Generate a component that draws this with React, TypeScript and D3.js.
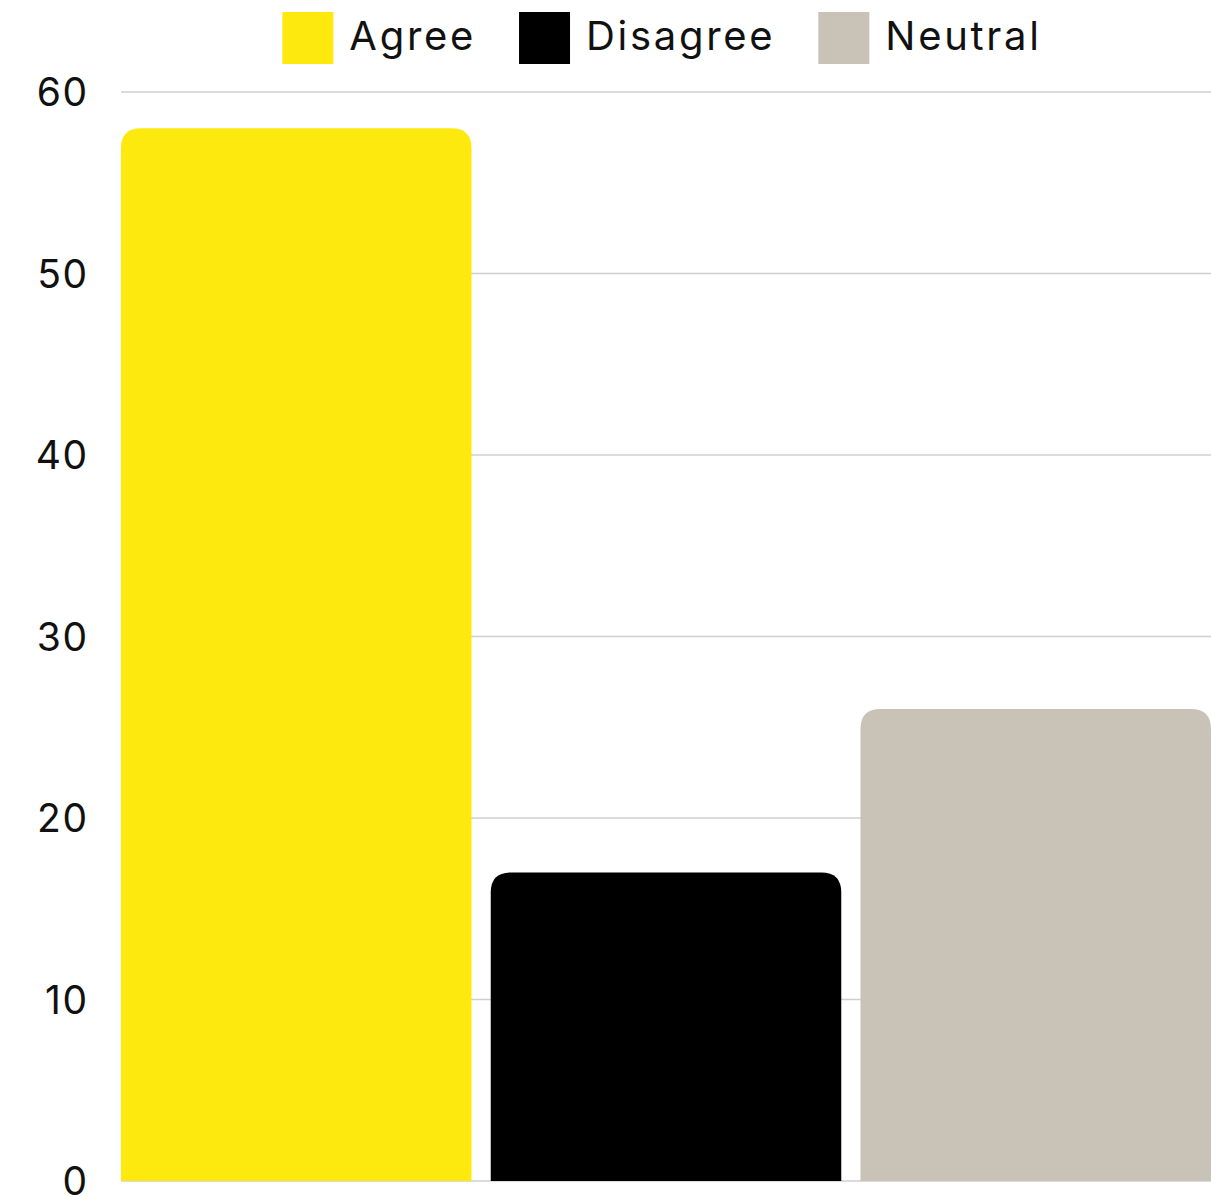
import React, { useEffect, useRef } from "react";
import * as d3 from "d3";

const categories = ["Agree", "Disagree", "Neutral"];
const values = [58, 17, 26];
const colors = ["#FDE90D", "#000000", "#C9C2B7"];
const yTicks = [0, 10, 20, 30, 40, 50, 60];

const W = 1211;
const H = 1197;
const FONT = "Inter, 'Open Sans', sans-serif";

function topRoundedBar(x: number, y: number, w: number, h: number, r: number) {
  const rr = Math.min(r, w / 2, h);
  return `M${x},${y + h}V${y + rr}Q${x},${y} ${x + rr},${y}H${x + w - rr}Q${x + w},${y} ${x + w},${y + rr}V${y + h}Z`;
}

export default function App() {
  const ref = useRef<SVGSVGElement | null>(null);

  useEffect(() => {
    const svg = d3.select(ref.current);
    svg.selectAll("*").remove();

    const left = 121;
    const right = W;
    const top = 92;
    const bottom = 1181;

    const x = d3.scaleBand<string>().domain(categories).range([left, right]).paddingInner(0.052).paddingOuter(0);
    const y = d3.scaleLinear().domain([0, 60]).range([bottom, top]);

    // gridlines
    svg
      .append("g")
      .selectAll("line")
      .data(yTicks)
      .join("line")
      .attr("x1", left)
      .attr("x2", right)
      .attr("y1", (d) => y(d))
      .attr("y2", (d) => y(d))
      .attr("stroke", "#cfcfcf")
      .attr("stroke-width", 1.5);

    // y tick labels
    svg
      .append("g")
      .selectAll("text")
      .data(yTicks)
      .join("text")
      .attr("x", 88.5)
      .attr("y", (d) => y(d))
      .attr("dy", "0.36em")
      .attr("text-anchor", "end")
      .attr("font-family", FONT)
      .attr("font-size", 39)
      .attr("letter-spacing", 1.5)
      .attr("fill", "#111")
      .text((d) => String(d));

    // bars
    svg
      .append("g")
      .selectAll("path")
      .data(categories)
      .join("path")
      .attr("d", (c, i) => {
        const x0 = x(c) as number;
        const y0 = y(values[i]);
        return topRoundedBar(x0, y0, x.bandwidth(), bottom - y0, 20);
      })
      .attr("fill", (_, i) => colors[i]);

    // legend
    const lg = svg.append("g");
    const sw = 51;
    const textGap = 16;
    const itemGap = 43;
    const items = categories.map((c, i) => {
      const g = lg.append("g");
      g.append("rect").attr("x", 0).attr("y", 12).attr("width", sw).attr("height", 52).attr("fill", colors[i]);
      const t = g
        .append("text")
        .attr("x", sw + textGap)
        .attr("y", 50)
        .attr("font-family", FONT)
        .attr("font-size", 40)
        .attr("letter-spacing", 2.7)
        .attr("fill", "#111")
        .text(c);
      const tw = (t.node() as SVGTextElement).getComputedTextLength();
      return { g, w: sw + textGap + tw };
    });
    const total = d3.sum(items, (d) => d.w) + itemGap * (items.length - 1);
    let cx = (left + right) / 2 - 4 - total / 2;
    items.forEach((it) => {
      it.g.attr("transform", `translate(${cx},0)`);
      cx += it.w + itemGap;
    });
  }, []);

  return (
    <svg
      ref={ref}
      width={W}
      height={H}
      style={{ position: "absolute", left: 0, top: 0, background: "#fff" }}
    />
  );
}
